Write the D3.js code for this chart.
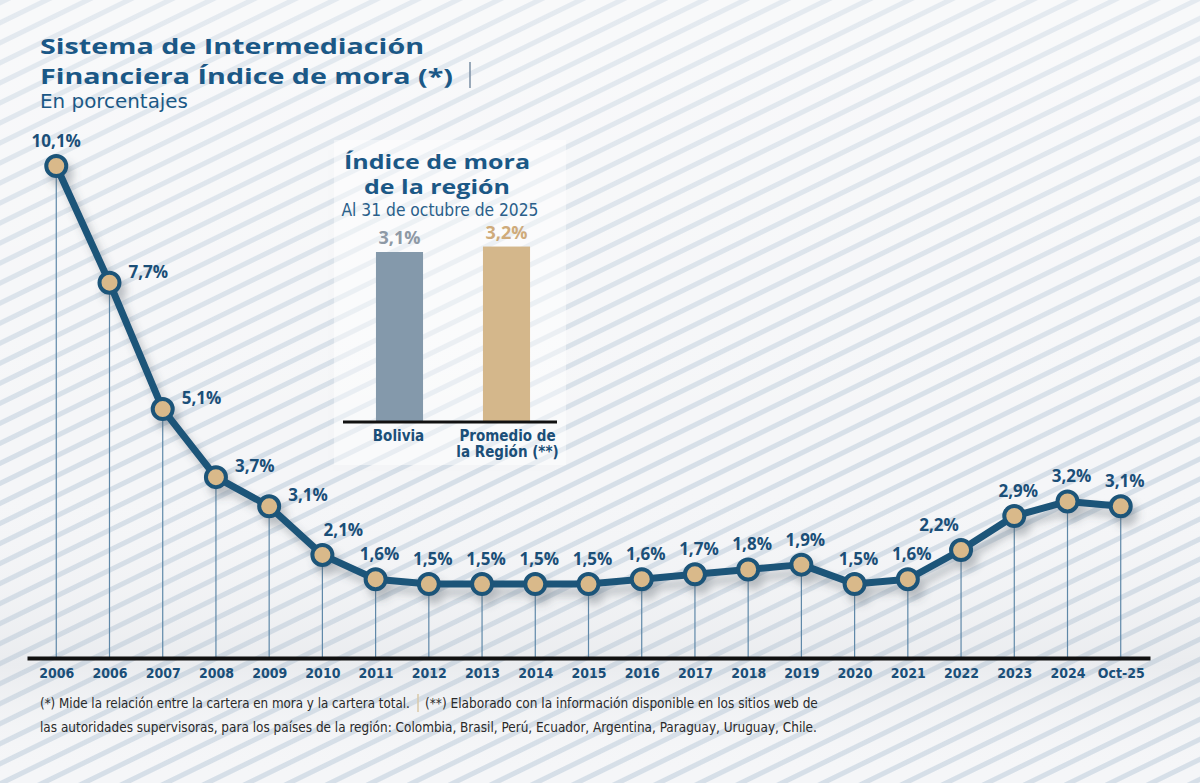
<!DOCTYPE html>
<html>
<head>
<meta charset="utf-8">
<script src="https://cdn.jsdelivr.net/npm/d3@7"></script>
<style>
  body { margin: 0; background: #f3f4f6; }
  svg { display: block; }
  .cond { font-family: "Liberation Sans Narrow", "DejaVu Sans Condensed", "Open Sans", sans-serif; }
</style>
</head>
<body>
<svg id="chart" width="1200" height="783"></svg>
<script>
// data
var years = ["2006", "2006", "2007", "2008", "2009", "2010", "2011", "2012", "2013", "2014", "2015",
             "2016", "2017", "2018", "2019", "2020", "2021", "2022", "2023", "2024", "Oct-25"];
var mora = [10.1, 7.7, 5.1, 3.7, 3.1, 2.1, 1.6, 1.5, 1.5, 1.5, 1.5, 1.6, 1.7, 1.8, 1.9, 1.5, 1.6, 2.2, 2.9, 3.2, 3.1];
var regionCats = ["Bolivia", "Promedio de la Región (**)"];
var regionVals = [3.1, 3.2];

var W = 1200, H = 783;
var navy = "#1b4f78", lineCol = "#1d5479", tan = "#d9b98a";
var svg = d3.select("#chart");
var defs = svg.append("defs");

// stripes background
var pat = defs.append("pattern")
    .attr("id", "stripes")
    .attr("patternUnits", "userSpaceOnUse")
    .attr("width", 18).attr("height", 18)
    .attr("patternTransform", "rotate(-26)");
pat.append("rect").attr("width", 18).attr("height", 18).attr("fill", "#f5f6f8");
pat.append("rect").attr("y", 0).attr("width", 18).attr("height", 5).attr("fill", "#d6dfe8");

var shade = defs.append("linearGradient").attr("id", "shade")
    .attr("x1", 0).attr("y1", 0).attr("x2", 0).attr("y2", 1);
shade.append("stop").attr("offset", "0%").attr("stop-color", "#ffffff").attr("stop-opacity", 0.35);
shade.append("stop").attr("offset", "60%").attr("stop-color", "#ffffff").attr("stop-opacity", 0);
shade.append("stop").attr("offset", "85%").attr("stop-color", "#9aa3ad").attr("stop-opacity", 0.12);
shade.append("stop").attr("offset", "100%").attr("stop-color", "#ffffff").attr("stop-opacity", 0);

var shadow = defs.append("filter").attr("id", "shadow")
    .attr("x", "-20%").attr("y", "-20%").attr("width", "140%").attr("height", "140%");
shadow.append("feDropShadow").attr("dx", 5).attr("dy", 8).attr("stdDeviation", 4)
    .attr("flood-color", "#4a5560").attr("flood-opacity", 0.35);

var boxShadow = defs.append("filter").attr("id", "boxShadow")
    .attr("x", "-20%").attr("y", "-20%").attr("width", "140%").attr("height", "140%");
boxShadow.append("feDropShadow").attr("dx", -6).attr("dy", 6).attr("stdDeviation", 6)
    .attr("flood-color", "#6b7580").attr("flood-opacity", 0.35);

svg.append("rect").attr("width", W).attr("height", H).attr("fill", "url(#stripes)");
svg.append("rect").attr("width", W).attr("height", H).attr("fill", "url(#shade)");

// title
var title = svg.append("g").attr("font-family", "Open Sans, sans-serif").attr("fill", "#1b5886");
title.append("text").attr("x", 40).attr("y", 54).attr("font-size", 22).attr("font-weight", 700)
    .attr("textLength", 384).attr("lengthAdjust", "spacingAndGlyphs")
    .text("Sistema de Intermediación");
title.append("text").attr("x", 40).attr("y", 84).attr("font-size", 22).attr("font-weight", 700)
    .attr("textLength", 413).attr("lengthAdjust", "spacingAndGlyphs")
    .text("Financiera Índice de mora (*)");
title.append("line").attr("x1", 470).attr("x2", 470).attr("y1", 62).attr("y2", 88)
    .attr("stroke", "#7a8ea3").attr("stroke-width", 1.5);
title.append("text").attr("class", "cond").attr("x", 40).attr("y", 108).attr("font-size", 19)
    .attr("textLength", 148).attr("lengthAdjust", "spacingAndGlyphs")
    .text("En porcentajes");

// scales
var x = d3.scalePoint().domain(d3.range(years.length)).range([27, 1150]).padding(0.55);
var y = d3.scaleLinear().domain([0, 10.1]).range([657, 166]);

// inset box
var inset = svg.append("g");
inset.append("rect").attr("x", 334).attr("y", 140).attr("width", 232).attr("height", 325)
    .attr("fill", "#ffffff").attr("fill-opacity", 0.01).attr("filter", "url(#boxShadow)");
inset.append("rect").attr("x", 334).attr("y", 140).attr("width", 232).attr("height", 325)
    .attr("fill", "#ffffff").attr("fill-opacity", 0.45);

var xb = d3.scaleBand().domain(regionCats).range([346, 560]).paddingInner(0.56).paddingOuter(0.28);
var yb = d3.scaleLinear().domain([0, 3.1]).range([421, 252]);

inset.append("text").attr("x", 437).attr("y", 169).attr("text-anchor", "middle")
    .attr("font-family", "Open Sans, sans-serif").attr("font-weight", 700).attr("font-size", 20)
    .attr("fill", "#1b5886").attr("textLength", 186).attr("lengthAdjust", "spacingAndGlyphs")
    .text("Índice de mora");
inset.append("text").attr("x", 437).attr("y", 194).attr("text-anchor", "middle")
    .attr("font-family", "Open Sans, sans-serif").attr("font-weight", 700).attr("font-size", 20)
    .attr("fill", "#1b5886").attr("textLength", 146).attr("lengthAdjust", "spacingAndGlyphs")
    .text("de la región");
inset.append("text").attr("class", "cond").attr("x", 440).attr("y", 216).attr("text-anchor", "middle")
    .attr("font-size", 17).attr("fill", "#2a5f8a")
    .attr("textLength", 197).attr("lengthAdjust", "spacingAndGlyphs")
    .text("Al 31 de octubre de 2025");

var barCols = ["#8499ab", "#d4b78b"];
var barLabelCols = ["#8e99a5", "#cfab7b"];
inset.selectAll(".bar").data(regionCats).enter().append("rect")
    .attr("class", "bar")
    .attr("x", function(d){ return xb(d); })
    .attr("width", xb.bandwidth())
    .attr("y", function(d, i){ return yb(regionVals[i]); })
    .attr("height", function(d, i){ return yb(0) - yb(regionVals[i]); })
    .attr("fill", function(d, i){ return barCols[i]; });
inset.selectAll(".barVal").data(regionCats).enter().append("text")
    .attr("class", "barVal")
    .attr("x", function(d){ return xb(d) + xb.bandwidth() / 2; })
    .attr("y", function(d, i){ return yb(regionVals[i]) - 8; })
    .attr("text-anchor", "middle")
    .attr("font-family", "Open Sans, sans-serif").attr("font-weight", 700).attr("font-size", 18)
    .attr("fill", function(d, i){ return barLabelCols[i]; })
    .text(function(d, i){ return String(regionVals[i]).replace(".", ",") + "%"; });
inset.append("line").attr("x1", 343).attr("x2", 557).attr("y1", yb(0) + 1).attr("y2", yb(0) + 1)
    .attr("stroke", "#111").attr("stroke-width", 3);
// category labels (second wraps in two lines)
var catLines = [["Bolivia"], ["Promedio de", "la Región (**)"]];
inset.selectAll(".barCat").data(regionCats).enter().append("text")
    .attr("class", "barCat cond")
    .attr("text-anchor", "middle")
    .attr("font-size", 15).attr("font-weight", 700).attr("fill", navy)
    .each(function(d, i){
        var t = d3.select(this);
        catLines[i].forEach(function(l, j){
            t.append("tspan").attr("x", xb(d) + xb.bandwidth() / 2 + (i == 1 ? 1 : -1))
                .attr("y", 441 + j * 16).text(l);
        });
    });

// drop lines
svg.append("g").selectAll("line").data(mora).enter().append("line")
    .attr("x1", function(d, i){ return x(i); })
    .attr("x2", function(d, i){ return x(i); })
    .attr("y1", function(d){ return y(d); })
    .attr("y2", y(0))
    .attr("stroke", "#5f88a8").attr("stroke-width", 1.2);

// axis
var axis = d3.axisBottom(x).tickSize(0).tickSizeOuter(0).tickPadding(10)
    .tickFormat(function(i){ return years[i]; });
var gx = svg.append("g").attr("transform", "translate(0," + (y(0) + 1) + ")").call(axis);
gx.select(".domain").attr("stroke", "#111").attr("stroke-width", 4);
gx.selectAll("text").attr("class", "cond").attr("font-size", 14).attr("font-weight", 700)
    .attr("fill", navy);

// line + markers
var line = d3.line().x(function(d, i){ return x(i); }).y(function(d){ return y(d); });
var g = svg.append("g").attr("filter", "url(#shadow)");
g.append("path").datum(mora).attr("d", line).attr("fill", "none")
    .attr("stroke", lineCol).attr("stroke-width", 7).attr("stroke-linejoin", "round");
g.selectAll("circle").data(mora).enter().append("circle")
    .attr("cx", function(d, i){ return x(i); })
    .attr("cy", function(d){ return y(d); })
    .attr("r", 10)
    .attr("fill", tan).attr("stroke", lineCol).attr("stroke-width", 4);

// value labels
svg.append("g").selectAll("text").data(mora).enter().append("text")
    .attr("font-family", "Open Sans, sans-serif").attr("font-weight", 700).attr("font-size", 17)
    .attr("fill", navy)
    .attr("text-anchor", function(d, i){ return (i >= 1 && i <= 4) ? "start" : "middle"; })
    .attr("x", function(d, i){
        if (i >= 1 && i <= 4) return x(i) + 19;
        if (i == 5) return x(i) + 21;
        if (i == 17) return x(i) - 22;
        if (i == 0) return x(i);
        return x(i) + 4;
    })
    .attr("y", function(d, i){
        if (i >= 1 && i <= 4) return y(d) - 5;
        return y(d) - 19;
    })
    .text(function(d){ return String(d).replace(".", ",") + "%"; });

// footnote: size each piece so it fits its width
function fitText(sel, target){
    var len = sel.node().getComputedTextLength();
    sel.attr("font-size", 16 * target / len);
}
var foot = svg.append("g").attr("class", "cond").attr("font-size", 16).attr("fill", "#2a2a2a");
var fa = foot.append("text").attr("x", 40).attr("y", 708).attr("font-size", 16)
    .text("(*) Mide la relación entre la cartera en mora y la cartera total.");
fitText(fa, 370);
foot.append("line").attr("x1", 418).attr("x2", 418).attr("y1", 694).attr("y2", 712)
    .attr("stroke", "#d9c9a8").attr("stroke-width", 1.5);
var fb = foot.append("text").attr("x", 425).attr("y", 708).attr("font-size", 16)
    .text("(**) Elaborado con la información disponible en los sitios web de");
fitText(fb, 393);
var fc = foot.append("text").attr("x", 40).attr("y", 732).attr("font-size", 16)
    .text("las autoridades supervisoras, para los países de la región: Colombia, Brasil, Perú, Ecuador, Argentina, Paraguay, Uruguay, Chile.");
fitText(fc, 778);
</script>
</body>
</html>
